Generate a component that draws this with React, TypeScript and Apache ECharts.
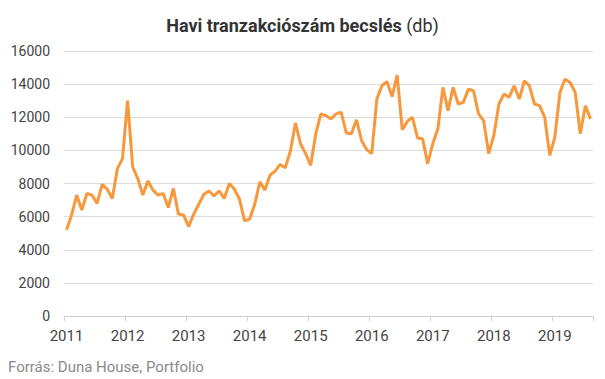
import React, { useEffect, useRef } from "react";
import * as echarts from "echarts";

const years = ["2011", "2012", "2013", "2014", "2015", "2016", "2017", "2018", "2019"];

const values2011 = [5200, 6100, 7300, 6400, 7400, 7300, 6800, 7950, 7650, 7100, 8900, 9500];
const values2012 = [13000, 9000, 8300, 7300, 8150, 7600, 7300, 7400, 6550, 7700, 6150, 6100];
const values2013 = [5400, 6150, 6750, 7350, 7550, 7250, 7550, 7100, 8000, 7650, 7050, 5750];
const values2014 = [5850, 6750, 8100, 7600, 8500, 8750, 9150, 8950, 9950, 11650, 10400, 9800];
const values2015 = [9100, 11000, 12200, 12100, 11900, 12200, 12300, 11050, 11000, 11850, 10600, 10050];
const values2016 = [9800, 13100, 13900, 14150, 13250, 14550, 11250, 11750, 12000, 10750, 10700, 9200];
const values2017 = [10400, 11300, 13800, 12400, 13800, 12800, 12900, 13700, 13600, 12200, 11800, 9800];
const values2018 = [10900, 12800, 13400, 13200, 13900, 13100, 14200, 13900, 12800, 12700, 12000, 9700];
const values2019 = [10800, 13500, 14300, 14100, 13500, 11000, 12700, 11900];

const yearValues = [values2011, values2012, values2013, values2014, values2015, values2016, values2017, values2018, values2019];

export default function App() {
  const ref = useRef<HTMLDivElement>(null);
  useEffect(() => {
    document.body.style.margin = "0";
    if (!ref.current) return;
    const chart = echarts.init(ref.current, undefined, { renderer: "svg" });
    const categories: string[] = [];
    const data: number[] = [];
    yearValues.forEach((vals, yi) => {
      vals.forEach((v, mi) => {
        categories.push(years[yi] + "-" + String(mi + 1).padStart(2, "0"));
        data.push(v);
      });
    });
    chart.setOption({
      animation: false,
      backgroundColor: "#ffffff",
      textStyle: { fontFamily: "Roboto" },
      title: {
        text: "{b|Havi tranzakciószám becslés} {n|(db)}",
        left: "center",
        top: 11,
        textStyle: {
          rich: {
            b: { fontFamily: "Roboto", fontWeight: "bold", fontSize: 18, color: "#333333" },
            n: { fontFamily: "Roboto", fontWeight: "normal", fontSize: 18, color: "#333333" },
          },
        },
      },
      graphic: [
        {
          type: "text",
          left: 8,
          top: 359,
          style: {
            text: "Forrás: Duna House, Portfolio",
            fill: "#8a8a8a",
            font: "15px Roboto",
          },
        },
      ],
      grid: { left: 64, right: 12, top: 51, bottom: 63 },
      xAxis: {
        type: "category",
        data: categories,
        boundaryGap: true,
        axisLine: { show: true, lineStyle: { color: "#d0d0d0", width: 1 } },
        axisTick: { show: true, interval: 11, length: 5, lineStyle: { color: "#d0d0d0" } },
        axisLabel: {
          interval: 11,
          margin: 12,
          color: "#444444",
          fontSize: 15,
          fontFamily: "Roboto",
          formatter: (v: string) => v.slice(0, 4),
        },
        splitLine: { show: false },
      },
      yAxis: {
        type: "value",
        min: 0,
        max: 16000,
        interval: 2000,
        axisLine: { show: false },
        axisTick: { show: false },
        axisLabel: {
          color: "#444444",
          fontSize: 14,
          fontFamily: "Roboto",
          margin: 14,
          formatter: (v: number) => String(v),
        },
        splitLine: { lineStyle: { color: "#dcdcdc", width: 1 } },
      },
      series: [
        {
          type: "line",
          data,
          symbol: "none",
          lineStyle: { color: "#f7983c", width: 3 },
          itemStyle: { color: "#f7983c" },
        },
      ],
    });
    return () => chart.dispose();
  }, []);
  return <div ref={ref} style={{ width: 605, height: 379 }} />;
}
